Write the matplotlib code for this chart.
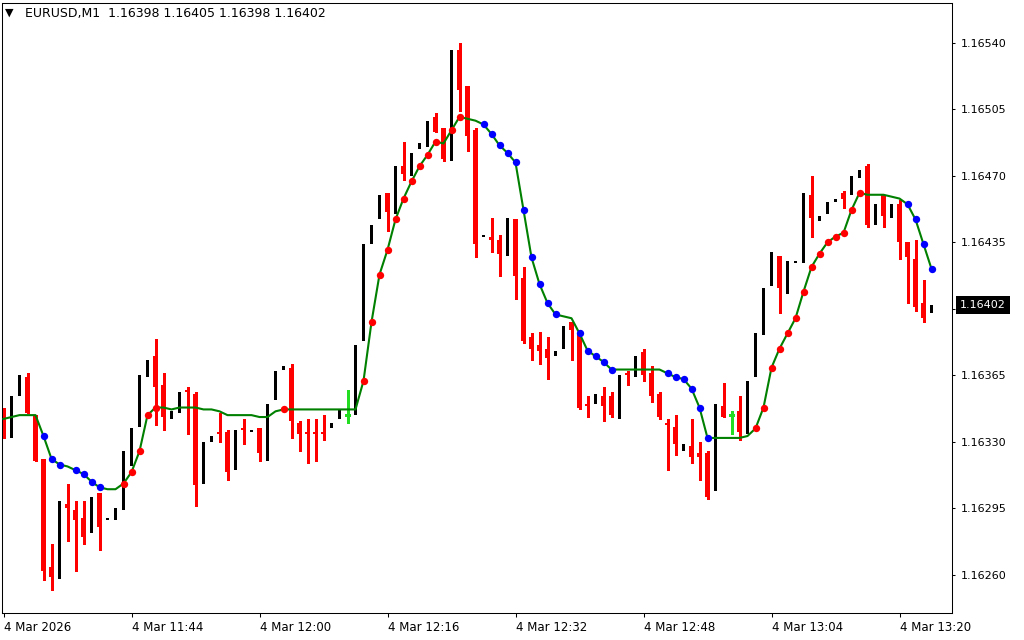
import matplotlib.pyplot as plt
import matplotlib.transforms as mtransforms
import numpy as np

# EURUSD M1 bars, 4 Mar 2026 from 11:28
opens = [1.16340, 1.16332, 1.16354, 1.16364, 1.16344, 1.16321, 1.16264, 1.16258, 1.16297, 1.16294,
         1.16290, 1.16282, 1.16303, 1.16289, 1.16289, 1.16294, 1.16317, 1.16338, 1.16364, 1.16375,
         1.16360, 1.16342, 1.16345, 1.16357, 1.16355, 1.16308, 1.16330, 1.16335, 1.16335, 1.16315,
         1.16337, 1.16335, 1.16337, 1.16320, 1.16352, 1.16368, 1.16369, 1.16340, 1.16335, 1.16335,
         1.16335, 1.16337, 1.16342, 1.16344, 1.16344, 1.16383, 1.16434, 1.16447, 1.16461, 1.16450,
         1.16475, 1.16470, 1.16484, 1.16485, 1.16501, 1.16495, 1.16478, 1.16536, 1.16517, 1.16494,
         1.16438, 1.16438, 1.16436, 1.16428, 1.16447, 1.16416, 1.16385, 1.16381, 1.16379, 1.16375,
         1.16379, 1.16393, 1.16387, 1.16350, 1.16350, 1.16354, 1.16354, 1.16342, 1.16366, 1.16364,
         1.16377, 1.16366, 1.16355, 1.16340, 1.16338, 1.16325, 1.16328, 1.16324, 1.16324, 1.16304,
         1.16349, 1.16344, 1.16346, 1.16334, 1.16364, 1.16386, 1.16412, 1.16428, 1.16408, 1.16424,
         1.16424, 1.16460, 1.16446, 1.16450, 1.16456, 1.16461, 1.16460, 1.16469, 1.16475, 1.16444,
         1.16460, 1.16448, 1.16455, 1.16435, 1.16426, 1.16403, 1.16398]
highs = [1.16348, 1.16354, 1.16365, 1.16366, 1.16344, 1.16321, 1.16276, 1.16299, 1.16308, 1.16299,
         1.16299, 1.16301, 1.16303, 1.16290, 1.16295, 1.16325, 1.16337, 1.16365, 1.16373, 1.16384,
         1.16366, 1.16346, 1.16356, 1.16359, 1.16356, 1.16330, 1.16333, 1.16345, 1.16336, 1.16336,
         1.16342, 1.16336, 1.16337, 1.16350, 1.16367, 1.16370, 1.16371, 1.16341, 1.16342, 1.16342,
         1.16344, 1.16340, 1.16347, 1.16357, 1.16381, 1.16434, 1.16444, 1.16460, 1.16461, 1.16475,
         1.16488, 1.16482, 1.16487, 1.16499, 1.16503, 1.16495, 1.16536, 1.16540, 1.16517, 1.16495,
         1.16439, 1.16448, 1.16439, 1.16448, 1.16447, 1.16422, 1.16387, 1.16388, 1.16385, 1.16378,
         1.16391, 1.16393, 1.16389, 1.16354, 1.16355, 1.16359, 1.16356, 1.16365, 1.16367, 1.16375,
         1.16379, 1.16370, 1.16356, 1.16342, 1.16344, 1.16329, 1.16342, 1.16330, 1.16325, 1.16350,
         1.16361, 1.16346, 1.16354, 1.16362, 1.16387, 1.16411, 1.16430, 1.16428, 1.16425, 1.16425,
         1.16461, 1.16470, 1.16449, 1.16456, 1.16458, 1.16462, 1.16470, 1.16473, 1.16476, 1.16455,
         1.16460, 1.16455, 1.16457, 1.16435, 1.16436, 1.16415, 1.16405]
lows = [1.16332, 1.16332, 1.16354, 1.16345, 1.16320, 1.16257, 1.16252, 1.16258, 1.16278, 1.16262,
        1.16276, 1.16282, 1.16273, 1.16289, 1.16289, 1.16294, 1.16317, 1.16338, 1.16364, 1.16339,
        1.16336, 1.16342, 1.16345, 1.16334, 1.16296, 1.16308, 1.16330, 1.16330, 1.16310, 1.16315,
        1.16329, 1.16335, 1.16320, 1.16320, 1.16352, 1.16368, 1.16332, 1.16325, 1.16319, 1.16320,
        1.16331, 1.16337, 1.16342, 1.16340, 1.16344, 1.16383, 1.16434, 1.16447, 1.16441, 1.16450,
        1.16468, 1.16470, 1.16484, 1.16485, 1.16493, 1.16478, 1.16478, 1.16504, 1.16483, 1.16427,
        1.16438, 1.16430, 1.16417, 1.16428, 1.16405, 1.16382, 1.16373, 1.16371, 1.16363, 1.16375,
        1.16379, 1.16373, 1.16347, 1.16343, 1.16350, 1.16341, 1.16343, 1.16342, 1.16360, 1.16364,
        1.16362, 1.16351, 1.16342, 1.16315, 1.16323, 1.16325, 1.16319, 1.16310, 1.16300, 1.16304,
        1.16343, 1.16334, 1.16331, 1.16334, 1.16364, 1.16386, 1.16412, 1.16398, 1.16408, 1.16424,
        1.16424, 1.16438, 1.16446, 1.16450, 1.16456, 1.16453, 1.16460, 1.16469, 1.16443, 1.16444,
        1.16443, 1.16448, 1.16426, 1.16403, 1.16399, 1.16393, 1.16398]
closes = [1.16332, 1.16354, 1.16365, 1.16345, 1.16320, 1.16262, 1.16259, 1.16299, 1.16295, 1.16289,
          1.16280, 1.16301, 1.16285, 1.16290, 1.16295, 1.16325, 1.16337, 1.16365, 1.16373, 1.16359,
          1.16343, 1.16346, 1.16356, 1.16356, 1.16307, 1.16330, 1.16333, 1.16334, 1.16314, 1.16336,
          1.16336, 1.16336, 1.16324, 1.16350, 1.16367, 1.16370, 1.16341, 1.16334, 1.16334, 1.16334,
          1.16334, 1.16340, 1.16347, 1.16344, 1.16381, 1.16434, 1.16444, 1.16460, 1.16451, 1.16475,
          1.16471, 1.16482, 1.16487, 1.16499, 1.16493, 1.16479, 1.16536, 1.16515, 1.16491, 1.16434,
          1.16439, 1.16436, 1.16429, 1.16448, 1.16417, 1.16383, 1.16379, 1.16378, 1.16374, 1.16378,
          1.16391, 1.16389, 1.16348, 1.16349, 1.16355, 1.16349, 1.16344, 1.16365, 1.16365, 1.16375,
          1.16365, 1.16354, 1.16343, 1.16339, 1.16329, 1.16329, 1.16322, 1.16322, 1.16301, 1.16350,
          1.16343, 1.16344, 1.16335, 1.16362, 1.16387, 1.16411, 1.16430, 1.16411, 1.16425, 1.16425,
          1.16461, 1.16448, 1.16449, 1.16456, 1.16458, 1.16458, 1.16470, 1.16473, 1.16444, 1.16455,
          1.16449, 1.16455, 1.16435, 1.16427, 1.16401, 1.16395, 1.16402]

# smoothed trend line and its up / down signal bars
trend = [1.16342, 1.16343, 1.16344, 1.16344, 1.16344, 1.16333, 1.16321, 1.16318, 1.16317, 1.16315,
         1.16313, 1.16309, 1.16306, 1.16305, 1.16305, 1.16308, 1.16314, 1.16325, 1.16344, 1.16348,
         1.16348, 1.16347, 1.16348, 1.16348, 1.16348, 1.16347, 1.16347, 1.16346, 1.16344, 1.16344,
         1.16344, 1.16344, 1.16343, 1.16343, 1.16346, 1.16347, 1.16347, 1.16347, 1.16347, 1.16347,
         1.16347, 1.16347, 1.16347, 1.16347, 1.16347, 1.16362, 1.16393, 1.16418, 1.16431, 1.16447,
         1.16458, 1.16467, 1.16475, 1.16481, 1.16488, 1.16487, 1.16494, 1.16501, 1.16500, 1.16499,
         1.16497, 1.16492, 1.16486, 1.16482, 1.16477, 1.16452, 1.16427, 1.16413, 1.16403, 1.16397,
         1.16396, 1.16395, 1.16387, 1.16378, 1.16375, 1.16372, 1.16368, 1.16368, 1.16368, 1.16368,
         1.16368, 1.16368, 1.16368, 1.16366, 1.16364, 1.16363, 1.16358, 1.16348, 1.16332, 1.16332,
         1.16332, 1.16332, 1.16332, 1.16333, 1.16337, 1.16348, 1.16369, 1.16379, 1.16387, 1.16395,
         1.16409, 1.16422, 1.16429, 1.16435, 1.16438, 1.16440, 1.16452, 1.16461, 1.16460, 1.16460,
         1.16460, 1.16459, 1.16458, 1.16455, 1.16447, 1.16434, 1.16421]
up_bars = [15, 16, 17, 18, 19, 35, 45, 46, 47, 48, 49, 50, 51, 52, 53, 54, 56, 57,
           94, 95, 96, 97, 98, 99, 100, 101, 102, 103, 104, 105, 106, 107]
down_bars = [5, 6, 7, 9, 10, 11, 12, 60, 61, 62, 63, 64, 65, 66, 67, 68, 69,
             72, 73, 74, 75, 76, 83, 84, 85, 86, 87, 88, 113, 114, 115, 116]

tick_bars = [0, 16, 32, 48, 64, 80, 96, 112]
tick_labels = ['4 Mar 2026', '4 Mar 11:44', '4 Mar 12:00', '4 Mar 12:16',
               '4 Mar 12:32', '4 Mar 12:48', '4 Mar 13:04', '4 Mar 13:20']
price_ticks = [1.16260, 1.16295, 1.16330, 1.16365, 1.16400, 1.16435, 1.16470, 1.16505, 1.16540]

o = np.array(opens)
h = np.array(highs)
l = np.array(lows)
c = np.array(closes)
x = np.arange(len(o))

plt.rcParams['font.family'] = 'DejaVu Sans'
fig = plt.figure(figsize=(10.24, 6.4), dpi=100)
ax = fig.add_axes([2 / 1024, 1 - 612.7 / 640, 950.3 / 1024, 610 / 640])

bull = c > o
bear = c < o
doji = c == o

# bear candles: red wick + red 5px body
ax.vlines(x[bear], l[bear], h[bear], color='red', lw=0.75, antialiased=False, zorder=2)
ax.bar(x[bear], (o - c)[bear], bottom=c[bear], width=5 / 8, color='red', linewidth=0,
       antialiased=False, zorder=2)
# bull candles: black body (outline/wick drawn in background colour)
ax.bar(x[bull], (c - o)[bull], bottom=o[bull], width=3 / 8, color='black', linewidth=0,
       antialiased=False, zorder=2)
# doji crosses
ax.vlines(x[doji], l[doji], h[doji], color='#22dd22', lw=0.75, antialiased=False, zorder=2)
ax.hlines(o[doji], x[doji] - 2.5 / 8, x[doji] + 2.5 / 8, color='#22dd22', lw=0.75,
          antialiased=False, zorder=2)

ax.plot(x, trend, color='#008000', lw=1.5, zorder=3)
tr = np.array(trend)
ax.scatter(up_bars, tr[up_bars], s=28, color='red', linewidths=0, zorder=4)
ax.scatter(down_bars, tr[down_bars], s=28, color='blue', linewidths=0, zorder=4)

ax.set_xlim(-0.1875, 118.6)
ax.set_ylim(1.16240, 1.165611)

ax.yaxis.tick_right()
ax.set_yticks(price_ticks)
# the 1.16400 label sits under the current-price box, only its tick shows
ax.set_yticklabels(['' if abs(p - closes[-1]) < 0.00005 else '%.5f' % p for p in price_ticks])
ax.set_xticks(tick_bars)
ax.set_xticklabels(tick_labels, ha='left')
ax.tick_params(axis='y', length=2.5, width=0.75, pad=3.5, labelsize=8, colors='black')
ax.tick_params(axis='x', length=3, width=0.75, pad=3, labelsize=8.5, colors='black')
for sp in ax.spines.values():
    sp.set_linewidth(0.75)
    sp.set_color('black')

# current price box on the axis
trans = mtransforms.blended_transform_factory(ax.transAxes, ax.transData)
ax.text(1.0081, closes[-1], '%.5f' % closes[-1], transform=trans, ha='left', va='center',
        fontsize=8, color='white', clip_on=False, zorder=10,
        bbox=dict(boxstyle='square,pad=0.4', fc='black', ec='none'))

fig.text(5 / 1024, 1 - 13 / 640, '\u25bc', fontsize=8, va='center', ha='left')
fig.text(25 / 1024, 1 - 14 / 640, 'EURUSD,M1  1.16398 1.16405 1.16398 1.16402',
         fontsize=9, va='center', ha='left')

fig.savefig('out.png', dpi=100, facecolor='white')
